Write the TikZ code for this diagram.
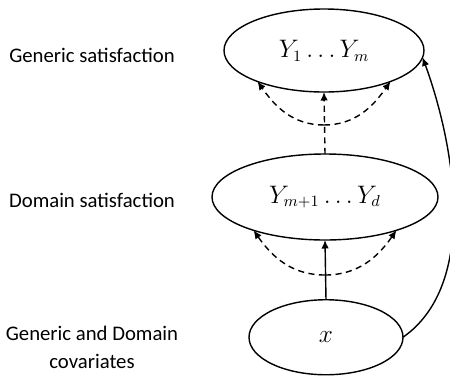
\documentclass[tikz,border=0pt]{standalone}
\usepackage{fontspec}
\setmainfont{Carlito}
\usepackage{tikz}
\usetikzlibrary{shapes.geometric, arrows.meta, positioning}
\tikzset{
    % Node styles
    groupnode/.style={
        ellipse,
        draw=black,
        line width=0.8pt,
        inner sep=0pt,
        outer sep=0pt,
        font=\fontsize{13.5}{15}\selectfont
    },
    leveltext/.style={
        align=center,
        font=\fontsize{11.8}{16}\selectfont
    },
    % Arrow styles
    myarrow/.style={
        -{Latex[length=1.7mm,width=1.5mm]},
        line width=0.8pt
    },
    dashedarrow/.style={
        -{Latex[length=1.7mm,width=1.5mm]},
        line width=0.8pt,
        dash pattern=on 3.5pt off 2.5pt
    }
}
\begin{document}
\begin{tikzpicture}
    \useasboundingbox (0,0) rectangle (9,7.52);

    % Ellipses
    \node[groupnode, minimum width=4cm, minimum height=1.66cm] (generic) at (6.48,6.51) {$Y_1 \ldots Y_m$};
    \node[groupnode, minimum width=4.52cm, minimum height=1.72cm] (domain) at (6.5,3.58) {$Y_{m+1} \ldots Y_d$};
    \node[groupnode, minimum width=3.08cm, minimum height=1.5cm] (covar) at (6.52,0.775) {$x$};

    % Level labels
    \node[leveltext] (genericlab) at (1.84,6.42) {Generic satisfaction};
    \node[leveltext] (domainlab) at (1.84,3.52) {Domain satisfaction};
    \node[leveltext] (covarlab) at (1.84,0.57) {Generic and Domain\\covariates};

    % Covariates to domain
    \draw[myarrow] (covar.north) -- (domain.south);
    \coordinate (forkd) at (6.5,2.02);
    \draw[dashedarrow] (forkd) to[out=180, in=-55] (domain.205);
    \draw[dashedarrow] (forkd) to[out=0, in=-125] (domain.335);

    % Domain to generic
    \draw[dashedarrow] (domain.north) -- (generic.south);
    \coordinate (forkg) at (6.48,5.02);
    \draw[dashedarrow] (forkg) to[out=180, in=-55] (generic.205);
    \draw[dashedarrow] (forkg) to[out=0, in=-125] (generic.335);

    % Covariates to generic
    \draw[myarrow] (covar.east) to[out=35, in=-70, looseness=0.85] (generic.-4);
\end{tikzpicture}
\end{document}
